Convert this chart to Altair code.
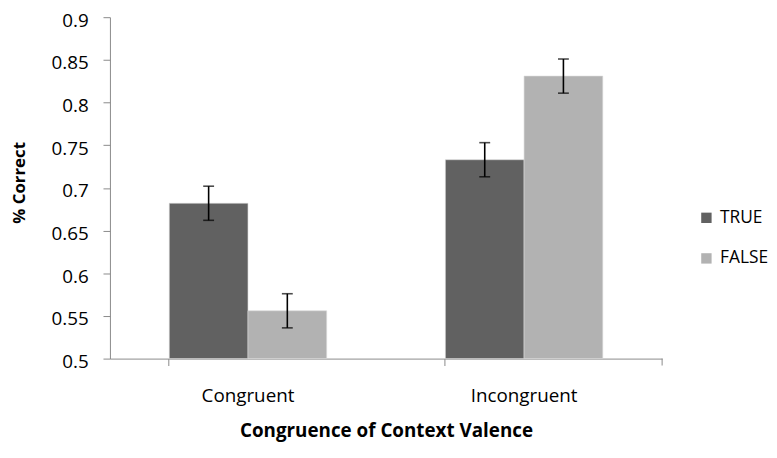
import altair as alt
import pandas as pd

groups = ["Congruent", "Congruent", "Incongruent", "Incongruent"]
series = ["TRUE", "FALSE", "TRUE", "FALSE"]
values = [0.682, 0.556, 0.733, 0.831]
errors = [0.020, 0.020, 0.020, 0.020]

df = pd.DataFrame({"group": groups, "series": series, "value": values, "err": errors})
df["lo"] = df["value"] - df["err"]
df["hi"] = df["value"] + df["err"]

FONT = "Open Sans"
AXC = "#8a8a8a"
W, H = 558, 345

x = alt.X("group:N", title="Congruence of Context Valence",
          scale=alt.Scale(paddingInner=0.43, paddingOuter=0.215),
          axis=alt.Axis(labelAngle=0, bandPosition=0, tickSize=7, labelPadding=21,
                        domainColor=AXC, tickColor=AXC, labelColor="#000000",
                        labelFontSize=19, labelFont=FONT, titleFont=FONT, titleFontSize=19,
                        titleFontWeight="bold", titleColor="#000000",
                        titleBaseline="middle", titleY=73))
xo = alt.XOffset("series:N", sort=["TRUE", "FALSE"], scale=alt.Scale(paddingInner=0, paddingOuter=0))

bars = alt.Chart(df).mark_bar(stroke="#d9d9d9", strokeWidth=0.6).encode(
    x=x,
    xOffset=xo,
    y=alt.Y("value:Q", title="% Correct",
            scale=alt.Scale(domain=[0.5, 0.9], zero=False, nice=False),
            axis=alt.Axis(values=[0.5, 0.55, 0.6, 0.65, 0.7, 0.75, 0.8, 0.85, 0.9],
                          labelExpr="format(datum.value, '.2~f')",
                          grid=False, tickSize=7, labelPadding=15, labelOffset=3,
                          domainColor=AXC, tickColor=AXC, labelColor="#000000",
                          labelFontSize=19, labelFont=FONT, titleFont=FONT, titleFontSize=17,
                          titleFontWeight="bold", titleColor="#000000",
                          titleBaseline="middle", titleX=-91, titleY=167)),
    y2=alt.datum(0.5),
    color=alt.Color("series:N", sort=["TRUE", "FALSE"],
                    scale=alt.Scale(domain=["TRUE", "FALSE"], range=["#616161", "#b2b2b2"]),
                    legend=alt.Legend(title=None, orient="none", legendX=594, legendY=194,
                                      symbolType="square", symbolSize=110, symbolStrokeWidth=0,
                                      labelFont=FONT, labelFontSize=17.5, labelColor="#000000",
                                      rowPadding=22, labelOffset=5)),
)

rules = alt.Chart(df).mark_rule(color="#000000", strokeWidth=1.6).encode(
    x=alt.X("group:N"), xOffset=xo, y="lo:Q", y2="hi:Q")

caps_lo = alt.Chart(df).mark_tick(color="#000000", size=11, thickness=1.6).encode(
    x=alt.X("group:N"), xOffset=xo, y="lo:Q")
caps_hi = alt.Chart(df).mark_tick(color="#000000", size=11, thickness=1.6).encode(
    x=alt.X("group:N"), xOffset=xo, y="hi:Q")

end_tick = alt.Chart(pd.DataFrame({"a": [0]})).mark_rule(color=AXC).encode(
    x=alt.value(W), y=alt.value(H), y2=alt.value(H + 7))

chart = alt.layer(bars, rules, caps_lo, caps_hi, end_tick).properties(
    width=W, height=H,
    background="#ffffff",
    autosize=alt.AutoSizeParams(type="none"),
    padding={"left": 103, "top": 7, "right": 108, "bottom": 83},
).configure_view(stroke=None)

chart.save("out.html", embed_options={"renderer": "svg", "actions": False})
